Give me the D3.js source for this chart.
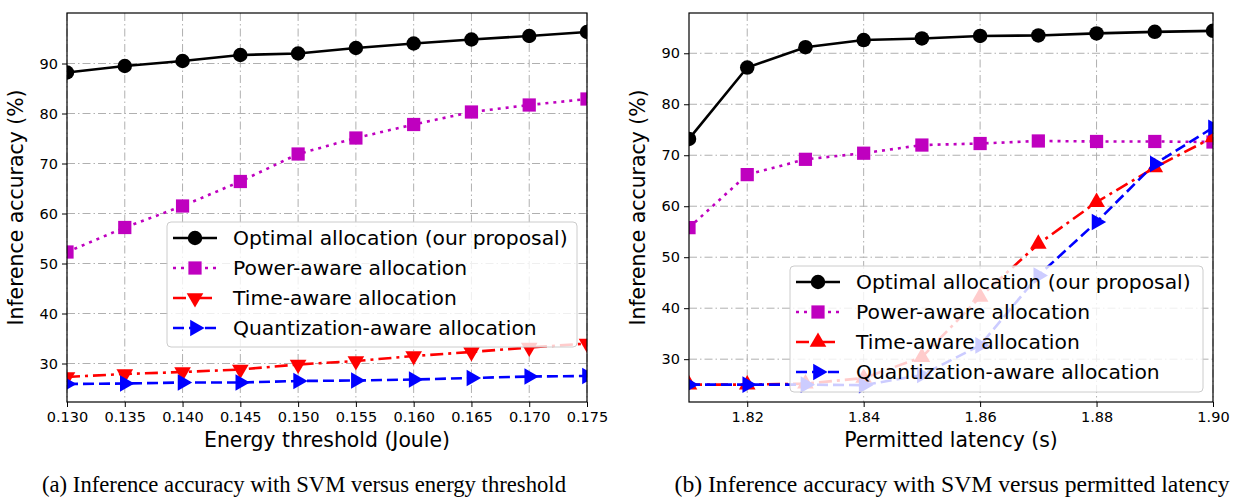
<!DOCTYPE html>
<html>
<head>
<meta charset="utf-8">
<script src="https://cdn.jsdelivr.net/npm/d3@7"></script>
<style>
  body { margin: 0; background: #fff; }
  svg { display: block; font-family: "DejaVu Sans", sans-serif; }
</style>
</head>
<body>
<div class="container"></div>
<script>
// ---- data (a): accuracy vs energy threshold
const energyThreshold = [0.130, 0.135, 0.140, 0.145, 0.150, 0.155, 0.160, 0.165, 0.170, 0.175];
const optimalEnergy = [88.2, 89.5, 90.5, 91.7, 92.0, 93.1, 94.0, 94.8, 95.5, 96.3];
const powerEnergy   = [52.3, 57.2, 61.5, 66.4, 71.9, 75.1, 77.8, 80.3, 81.7, 82.9];
const timeEnergy    = [27.3, 27.9, 28.3, 28.8, 29.8, 30.5, 31.5, 32.3, 33.2, 34.0];
const quantEnergy   = [25.9, 26.0, 26.2, 26.2, 26.5, 26.6, 26.8, 27.1, 27.4, 27.5];
const energyTicks = [0.130, 0.135, 0.140, 0.145, 0.150, 0.155, 0.160, 0.165, 0.170, 0.175];

// ---- data (b): accuracy vs permitted latency
const latency = [1.81, 1.82, 1.83, 1.84, 1.85, 1.86, 1.87, 1.88, 1.89, 1.90];
const optimalLatency = [73.2, 87.2, 91.2, 92.6, 92.9, 93.4, 93.5, 93.9, 94.2, 94.4];
const powerLatency   = [55.8, 66.2, 69.2, 70.4, 72.0, 72.3, 72.8, 72.7, 72.7, 72.6];
const timeLatency    = [25.0, 25.0, 25.2, 26.3, 30.4, 42.2, 52.6, 60.8, 67.6, 73.5];
const quantLatency   = [25.0, 25.0, 25.0, 24.9, 26.9, 32.7, 46.4, 56.9, 68.3, 75.4];
const latencyTicks = [1.82, 1.84, 1.86, 1.88, 1.90];

const accuracyTicks = [30, 40, 50, 60, 70, 80, 90];
const seriesNames = ["Optimal allocation (our proposal)", "Power-aware allocation",
                     "Time-aware allocation", "Quantization-aware allocation"];

const W = 1236, H = 500;
const svg = d3.select(".container").append("svg")
    .attr("width", W).attr("height", H);

const styles = [
  { color: "#000000", dash: null,         marker: "circle" },
  { color: "#bf00bf", dash: "3,5",        marker: "square" },
  { color: "#ff0000", dash: "13,5,3,5",   marker: "tri" },
  { color: "#0000ff", dash: "11,5",       marker: "right" }
];

function markerPath(kind) {
  if (kind === "circle") return d3.symbol(d3.symbolCircle, 165)();
  if (kind === "square") return d3.symbol(d3.symbolSquare, 175)();
  return d3.symbol(d3.symbolTriangle, 120)();
}
function markerRotate(kind, triDir) {
  if (kind === "right") return 90;
  if (kind === "tri") return triDir === "down" ? 180 : 0;
  return 0;
}

function drawPanel(cfg) {
  const { left, top, right, bottom } = cfg.box;
  const x = d3.scaleLinear().domain(cfg.xDomain).range([left, right]);
  const y = d3.scaleLinear().domain(cfg.yDomain).range([bottom, top]);
  const g = svg.append("g");
  const clipId = "clip-" + cfg.id;

  g.append("clipPath").attr("id", clipId)
    .append("rect").attr("x", left).attr("y", top)
    .attr("width", right - left).attr("height", bottom - top);

  // grid
  const grid = g.append("g").attr("stroke", "#b0b0b0").attr("stroke-width", 1)
      .attr("stroke-dasharray", "8,3,1.5,3");
  grid.selectAll(".gx").data(cfg.xTicks).join("line")
      .attr("x1", d => x(d)).attr("x2", d => x(d))
      .attr("y1", top).attr("y2", bottom);
  grid.selectAll(".gy").data(accuracyTicks).join("line")
      .attr("x1", left).attr("x2", right)
      .attr("y1", d => y(d)).attr("y2", d => y(d));

  // series
  const plot = g.append("g").attr("clip-path", `url(#${clipId})`);
  const line = d3.line().x(d => x(d[0])).y(d => y(d[1]));
  cfg.series.forEach((vals, i) => {
    const st = styles[i];
    const pts = cfg.xs.map((v, j) => [v, vals[j]]);
    plot.append("path").datum(pts)
      .attr("d", line).attr("fill", "none")
      .attr("stroke", st.color).attr("stroke-width", 2.6)
      .attr("stroke-dasharray", st.dash);
    plot.selectAll(null).data(pts).join("path")
      .attr("d", markerPath(st.marker))
      .attr("transform", d => `translate(${x(d[0])},${y(d[1])}) rotate(${markerRotate(st.marker, cfg.triDir)})`)
      .attr("fill", st.color);
  });

  // axes
  const xAxis = g.append("g").attr("transform", `translate(0,${bottom})`)
      .call(d3.axisBottom(x).tickValues(cfg.xTicks).tickFormat(d3.format(cfg.xFormat))
            .tickSizeOuter(0).tickSize(5).tickPadding(5));
  const yAxis = g.append("g").attr("transform", `translate(${left},0)`)
      .call(d3.axisLeft(y).tickValues(accuracyTicks).tickSizeOuter(0).tickSize(5).tickPadding(4));
  [xAxis, yAxis].forEach(a => {
    a.select(".domain").remove();
    a.selectAll("text").attr("font-size", 14.5).attr("fill", "#000")
      .attr("font-family", "DejaVu Sans");
    a.selectAll("line").attr("stroke", "#000").attr("stroke-width", 1);
  });
  g.append("rect").attr("x", left).attr("y", top)
    .attr("width", right - left).attr("height", bottom - top)
    .attr("fill", "none").attr("stroke", "#000").attr("stroke-width", 1.2);

  g.append("text").attr("x", (left + right) / 2).attr("y", 447)
    .attr("text-anchor", "middle").attr("font-size", 20.4).text(cfg.xLabel);
  g.append("text")
    .attr("transform", `translate(${left - 44},${(top + bottom) / 2}) rotate(-90)`)
    .attr("text-anchor", "middle").attr("font-size", 20.4).text("Inference accuracy (%)");

  // legend
  const L = cfg.legend;
  const lg = g.append("g");
  lg.append("rect").attr("x", L.x).attr("y", L.y).attr("width", L.w).attr("height", L.h)
    .attr("rx", 4).attr("fill", "#fff").attr("fill-opacity", 0.8)
    .attr("stroke", "#cccccc").attr("stroke-width", 1);
  seriesNames.forEach((name, i) => {
    const st = styles[i];
    const cy = L.y + 16 + i * 30;
    const item = lg.append("g");
    item.append("line").attr("x1", L.x + 6).attr("x2", L.x + 50)
      .attr("y1", cy).attr("y2", cy).attr("stroke", st.color).attr("stroke-width", 2.6)
      .attr("stroke-dasharray", st.dash);
    item.append("path").attr("d", markerPath(st.marker))
      .attr("transform", `translate(${L.x + 28},${cy}) rotate(${markerRotate(st.marker, cfg.triDir)})`)
      .attr("fill", st.color);
    item.append("text").attr("x", L.x + 66).attr("y", cy).attr("dy", "0.36em")
      .attr("font-size", 20.3).text(name);
  });

  svg.append("text").attr("x", cfg.captionX).attr("y", 492)
    .attr("text-anchor", "middle")
    .attr("font-family", "Liberation Serif, serif").attr("font-size", 22.5)
    .attr("textLength", cfg.captionWidth).attr("lengthAdjust", "spacingAndGlyphs")
    .text(cfg.caption);
}

drawPanel({
  id: "a",
  box: { left: 67, top: 13, right: 587, bottom: 402 },
  xDomain: [0.130, 0.175], yDomain: [22.3, 100.1],
  xs: energyThreshold, xTicks: energyTicks, xFormat: ".3f",
  series: [optimalEnergy, powerEnergy, timeEnergy, quantEnergy],
  triDir: "down",
  xLabel: "Energy threshold (Joule)",
  legend: { x: 167, y: 222, w: 410, h: 125 },
  caption: "(a) Inference accuracy with SVM versus energy threshold",
  captionX: 304, captionWidth: 524
});

drawPanel({
  id: "b",
  box: { left: 689, top: 13, right: 1213, bottom: 402 },
  xDomain: [1.81, 1.90], yDomain: [21.6, 97.9],
  xs: latency, xTicks: latencyTicks, xFormat: ".2f",
  series: [optimalLatency, powerLatency, timeLatency, quantLatency],
  triDir: "up",
  xLabel: "Permitted latency (s)",
  legend: { x: 790, y: 266, w: 413, h: 126 },
  caption: "(b) Inference accuracy with SVM versus permitted latency",
  captionX: 952, captionWidth: 555
});
</script>
</body>
</html>
